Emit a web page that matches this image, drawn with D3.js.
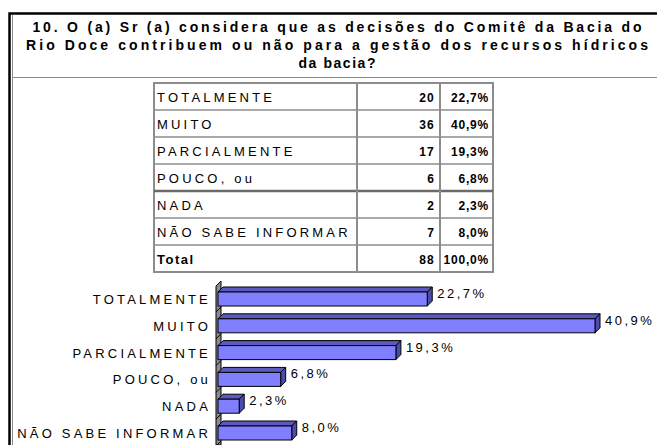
<!DOCTYPE html>
<html>
<head>
<meta charset="utf-8">
<script src="https://cdn.jsdelivr.net/npm/d3@7"></script>
<style>
  html, body { margin: 0; padding: 0; background: #ffffff; }
  svg { display: block; }
  text { font-family: "Liberation Sans", Arial, sans-serif; fill: #000; }
</style>
</head>
<body>
<svg id="chart" width="657" height="445"></svg>
<script>
// Survey question and answers
const titleLines = [
  "10. O (a) Sr (a) considera que as decisões do Comitê da Bacia do",
  "Rio Doce contribuem ou não para a gestão dos recursos hídricos",
  "da bacia?"
];
const categories = ["TOTALMENTE", "MUITO", "PARCIALMENTE", "POUCO, ou", "NADA", "NÃO SABE INFORMAR"];
const counts = [20, 36, 17, 6, 2, 7];
const percents = [22.7, 40.9, 19.3, 6.8, 2.3, 8.0];
const totalLabel = "Total";
const totalCount = 88;
const totalPercent = 100.0;

const fmtPct = v => v.toFixed(1).replace(".", ",") + "%";

const svg = d3.select("#chart");
const W = 657, H = 445;

// spread a text's letters so that it spans the given width, starting at its x
function spreadTo(sel, width) {
  sel.each(function () {
    const t = d3.select(this);
    const n = this.getNumberOfChars();
    const natural = this.getComputedTextLength();
    t.attr("letter-spacing", (width - natural) / Math.max(1, n - 1));
  });
}

// ---- outer frame ----
svg.append("rect").attr("x", 0).attr("y", 0).attr("width", W).attr("height", H).attr("fill", "#ffffff");
svg.append("path").attr("d", `M9.5,${H} V13.5 H${W}`).attr("fill", "none").attr("stroke", "#000").attr("stroke-width", 2.5);
svg.append("line").attr("x1", 12.5).attr("x2", 12.5).attr("y1", 15).attr("y2", H).attr("stroke", "#8a8a8a").attr("stroke-width", 1);
svg.append("line").attr("x1", 12).attr("x2", W).attr("y1", 77.5).attr("y2", 77.5).attr("stroke", "#8a8a8a").attr("stroke-width", 1);

// ---- title ----
const titleWidths = [609, 622, 77];
const titleCenter = 337;
const titleY = d3.scalePoint().domain(d3.range(titleLines.length)).range([32, 68]);
svg.append("g").selectAll("text").data(titleLines).join("text")
  .attr("x", (d, i) => titleCenter - titleWidths[i] / 2).attr("y", (d, i) => titleY(i))
  .attr("font-size", 14).attr("font-weight", "bold")
  .text(d => d)
  .each(function (d, i) { spreadTo(d3.select(this), titleWidths[i]); });

// ---- table ----
const rows = categories.map((c, i) => ({ label: c, n: counts[i], p: percents[i], bold: false }))
  .concat([{ label: totalLabel, n: totalCount, p: totalPercent, bold: true }]);
const tX = [154, 357, 440, 493];
const rowY = d3.scaleBand().domain(d3.range(rows.length)).range([83, 272]);
const tbl = svg.append("g");
const grid = "#8c8c8c";
tbl.append("rect").attr("x", tX[0]).attr("y", rowY.range()[0]).attr("width", tX[3] - tX[0])
  .attr("height", rowY.range()[1] - rowY.range()[0]).attr("fill", "none").attr("stroke", grid).attr("stroke-width", 2);
tbl.selectAll("line.row").data(d3.range(1, rows.length)).join("line").attr("class", "row")
  .attr("x1", tX[0]).attr("x2", tX[3]).attr("y1", i => rowY(i)).attr("y2", i => rowY(i))
  .attr("stroke", i => i === 4 ? "#6a6a6a" : grid).attr("stroke-width", i => i === 4 ? 2.5 : 1.5);
tbl.selectAll("line.col").data([tX[1], tX[2]]).join("line").attr("class", "col")
  .attr("x1", d => d).attr("x2", d => d).attr("y1", rowY.range()[0]).attr("y2", rowY.range()[1])
  .attr("stroke", grid).attr("stroke-width", 2);
const rowG = tbl.selectAll("g.r").data(rows).join("g").attr("class", "r")
  .attr("transform", (d, i) => `translate(0,${rowY(i) + rowY.bandwidth() / 2 + 5})`);
rowG.append("text").attr("x", tX[0] + 3).attr("font-size", 13)
  .attr("font-weight", d => d.bold ? "bold" : "normal")
  .attr("letter-spacing", d => d.bold ? 1.5 : 3.2)
  .text(d => d.label);
rowG.append("text").attr("x", tX[2] - 5).attr("text-anchor", "end").attr("font-size", 12)
  .attr("font-weight", "bold").attr("letter-spacing", 1.2).text(d => d.n);
rowG.append("text").attr("x", tX[3] - 4).attr("text-anchor", "end").attr("font-size", 12)
  .attr("font-weight", "bold").attr("letter-spacing", 0.8).text(d => fmtPct(d.p));

// ---- 3D bar chart ----
const x = d3.scaleLinear().domain([0, 40.9]).range([218, 595]);
const y = d3.scalePoint().domain(categories).range([299, 433]);
const bh = 14, dx = 5, dy = 5;
const frontCol = "#7f7fff", topCol = "#5a5ac0", sideCol = "#4c4caa";

// back wall
const wall = svg.append("g");
wall.append("path")
  .attr("d", `M${x(0) - 2},${H} V${y.range()[0] - 13} L${x(0) + dx - 2},${y.range()[0] - 18} V${H} Z`)
  .attr("fill", "#8c8c8c").attr("stroke", "#000").attr("stroke-width", 1);
wall.selectAll("line").data(categories).join("line")
  .attr("x1", x(0) - 2).attr("x2", x(0) + dx - 2)
  .attr("y1", d => y(d) + bh / 2 + 6).attr("y2", d => y(d) + bh / 2 + 1)
  .attr("stroke", "#000").attr("stroke-width", 1);

const bars = svg.append("g").selectAll("g").data(categories.map((c, i) => ({ c, v: percents[i] }))).join("g");
bars.append("path") // top face
  .attr("d", d => { const x0 = x(0), x1 = x(d.v), yt = y(d.c) - bh / 2;
    return `M${x0},${yt} L${x0 + dx},${yt - dy} L${x1 + dx},${yt - dy} L${x1},${yt} Z`; })
  .attr("fill", topCol).attr("stroke", "#000").attr("stroke-width", 1);
bars.append("path") // side face
  .attr("d", d => { const x1 = x(d.v), yt = y(d.c) - bh / 2;
    return `M${x1},${yt} L${x1 + dx},${yt - dy} L${x1 + dx},${yt + bh - dy} L${x1},${yt + bh} Z`; })
  .attr("fill", sideCol).attr("stroke", "#000").attr("stroke-width", 1);
bars.append("rect") // front face
  .attr("x", x(0)).attr("y", d => y(d.c) - bh / 2)
  .attr("width", d => x(d.v) - x(0)).attr("height", bh)
  .attr("fill", frontCol).attr("stroke", "#000").attr("stroke-width", 1);
bars.append("text")
  .attr("x", d => x(d.v) + dx + 5).attr("y", d => y(d.c) - 1)
  .attr("font-size", 13).attr("letter-spacing", 2.5)
  .text(d => fmtPct(d.v));

// category axis labels
svg.append("g").selectAll("text").data(categories).join("text")
  .attr("x", 211).attr("y", d => y(d) + 5)
  .attr("text-anchor", "end").attr("font-size", 13).attr("letter-spacing", 3.2)
  .text(d => d);
</script>
</body>
</html>
